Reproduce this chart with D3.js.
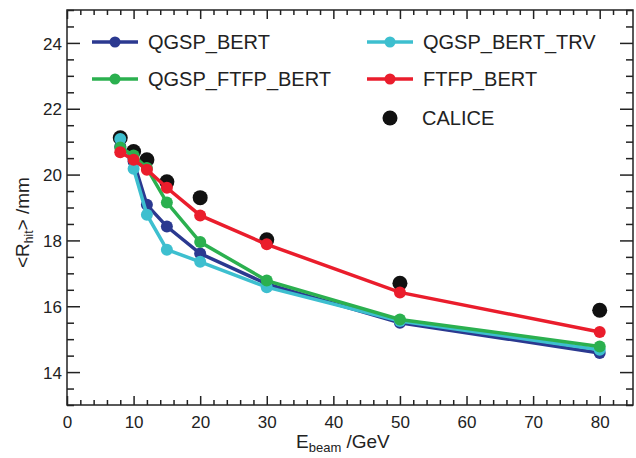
<!DOCTYPE html>
<html>
<head>
<meta charset="utf-8">
<style>
  body { margin: 0; background: #fff; }
  svg { font-family: "Liberation Sans", Arial, sans-serif; }
</style>
</head>
<body>
<div id="chart"></div>
<script src="https://d3js.org/d3.v7.min.js"></script>
<script>
// beam energies (GeV)
const energies = [8, 10, 12, 15, 20, 30, 50, 80];

// mean hit radius (mm) per model
const qgspBert     = [20.85, 20.40, 19.08, 18.42, 17.60, 16.68, 15.50, 14.58];
const qgspBertTrv  = [21.08, 20.18, 18.78, 17.72, 17.35, 16.58, 15.55, 14.68];
const qgspFtfpBert = [20.82, 20.58, 20.20, 19.15, 17.95, 16.78, 15.60, 14.78];
const ftfpBert     = [20.68, 20.45, 20.15, 19.60, 18.76, 17.88, 16.42, 15.22];
const calice       = [21.12, 20.70, 20.45, 19.78, 19.30, 18.02, 16.70, 15.88];

const xTicks = [0, 10, 20, 30, 40, 50, 60, 70, 80];
const yTicks = [14, 16, 18, 20, 22, 24];

const width = 636;
const height = 458;
const margin = { top: 10, right: 3, bottom: 53, left: 67 };

const svg = d3.select('#chart')
  .append('svg')
  .attr('width', width)
  .attr('height', height);

const x = d3.scaleLinear()
  .domain([0, 85])
  .range([margin.left, width - margin.right]);

const y = d3.scaleLinear()
  .domain([13, 25])
  .range([height - margin.bottom, margin.top]);

// frame
svg.append('rect')
  .attr('x', x(0))
  .attr('y', y(25))
  .attr('width', x(85) - x(0))
  .attr('height', y(13) - y(25))
  .attr('fill', 'none')
  .attr('stroke', '#222')
  .attr('stroke-width', 1.5);

// ticks: major + minor, on all four sides
const xMinor = d3.range(0, 85.1, 2).filter(v => v % 10 !== 0);
const yMinor = d3.range(13, 25.01, 0.5).filter(v => v % 2 !== 0);

function tickAxis(axis, tickVals, size) {
  return axis.tickValues(tickVals).tickSize(size).tickSizeOuter(0).tickFormat('');
}

const addAxis = (axis, tx, ty) => {
  const g = svg.append('g')
    .attr('transform', `translate(${tx},${ty})`)
    .call(axis);
  g.select('.domain').remove();
  g.selectAll('line').attr('stroke', '#222').attr('stroke-width', 1.5);
  g.selectAll('text').attr('fill', '#222').attr('font-size', 17)
    .attr('font-family', '"Liberation Sans", Arial, sans-serif');
  return g;
};

const bottomY = y(13);
const topY = y(25);
const leftX = x(0);
const rightX = x(85);

// bottom
addAxis(tickAxis(d3.axisTop(x), xTicks, 9), 0, bottomY);
addAxis(tickAxis(d3.axisTop(x), xMinor, 5), 0, bottomY);
const xl = addAxis(d3.axisBottom(x).tickValues(xTicks).tickSize(0).tickFormat(d3.format('d')), 0, bottomY);
xl.selectAll('text').attr('dy', '1.15em');
// top
addAxis(tickAxis(d3.axisBottom(x), xTicks, 9), 0, topY);
addAxis(tickAxis(d3.axisBottom(x), xMinor, 5), 0, topY);
// left
addAxis(tickAxis(d3.axisRight(y), yTicks, 13), leftX, 0);
addAxis(tickAxis(d3.axisRight(y), yMinor, 7), leftX, 0);
const yl = addAxis(d3.axisLeft(y).tickValues(yTicks).tickSize(0).tickFormat(d3.format('d')), leftX, 0);
yl.selectAll('text').attr('x', -5).attr('dy', '0.36em');
// right
addAxis(tickAxis(d3.axisLeft(y), yTicks, 13), rightX, 0);
addAxis(tickAxis(d3.axisLeft(y), yMinor, 7), rightX, 0);

// axis titles
const xt = svg.append('text')
  .attr('x', 296)
  .attr('y', 448)
  .attr('font-size', 19)
  .attr('fill', '#222');
xt.append('tspan').text('E');
xt.append('tspan').attr('font-size', 13).attr('dy', 4).text('beam');
xt.append('tspan').attr('dy', -4).text(' /GeV');

const yt = svg.append('text')
  .attr('transform', 'translate(29,268) rotate(-90)')
  .attr('font-size', 19)
  .attr('fill', '#222');
yt.append('tspan').text('<R');
yt.append('tspan').attr('font-size', 12).attr('dy', 4).text('hit');
yt.append('tspan').attr('dy', -4).text('> /mm');

// data series
const models = [
  { name: 'QGSP_BERT', values: qgspBert, color: '#2b3990' },
  { name: 'QGSP_BERT_TRV', values: qgspBertTrv, color: '#3dbfcf' },
  { name: 'QGSP_FTFP_BERT', values: qgspFtfpBert, color: '#2bb04f' },
  { name: 'FTFP_BERT', values: ftfpBert, color: '#ea1d2c' }
];

const line = d3.line()
  .x(d => x(d[0]))
  .y(d => y(d[1]));

// CALICE data points first (drawn underneath)
svg.append('g')
  .selectAll('circle')
  .data(d3.zip(energies, calice))
  .join('circle')
  .attr('cx', d => x(d[0]))
  .attr('cy', d => y(d[1]))
  .attr('r', 7.5)
  .attr('fill', '#111');

models.forEach(m => {
  const pts = d3.zip(energies, m.values);
  const g = svg.append('g');
  g.append('path')
    .datum(pts)
    .attr('fill', 'none')
    .attr('stroke', m.color)
    .attr('stroke-width', 3.5)
    .attr('d', line);
  g.selectAll('circle')
    .data(pts)
    .join('circle')
    .attr('cx', d => x(d[0]))
    .attr('cy', d => y(d[1]))
    .attr('r', 6)
    .attr('fill', m.color);
});

// legend
const legendItems = [
  { m: models[0], lx: 92, ly: 42 },
  { m: models[2], lx: 92, ly: 79 },
  { m: models[1], lx: 367, ly: 42 },
  { m: models[3], lx: 367, ly: 79 }
];

legendItems.forEach(({ m, lx, ly }) => {
  svg.append('line')
    .attr('x1', lx).attr('x2', lx + 46)
    .attr('y1', ly).attr('y2', ly)
    .attr('stroke', m.color)
    .attr('stroke-width', 3.5);
  svg.append('circle')
    .attr('cx', lx + 23).attr('cy', ly)
    .attr('r', 5.5)
    .attr('fill', m.color);
  svg.append('text')
    .attr('x', lx + 56).attr('y', ly)
    .attr('dy', '0.36em')
    .attr('font-size', 20)
    .attr('fill', '#222')
    .text(m.name);
});

svg.append('circle')
  .attr('cx', 390).attr('cy', 118)
  .attr('r', 7.5)
  .attr('fill', '#111');
svg.append('text')
  .attr('x', 422).attr('y', 118)
  .attr('dy', '0.36em')
  .attr('font-size', 20)
  .attr('fill', '#222')
  .text('CALICE');
</script>
</body>
</html>
